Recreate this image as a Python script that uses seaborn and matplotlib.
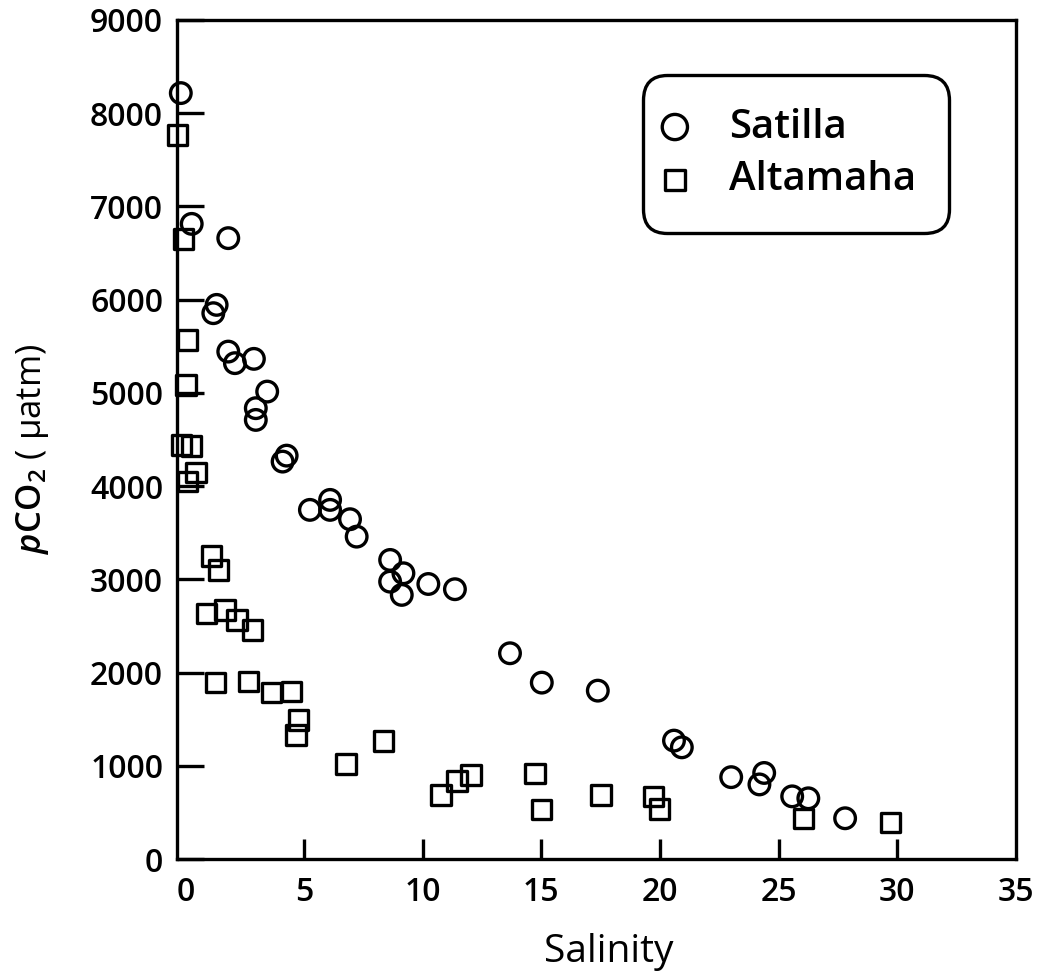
import matplotlib
matplotlib.use("Agg")
import matplotlib.pyplot as plt
import pandas as pd
import seaborn as sns

# Satilla River estuary: salinity vs. pCO2 (µatm)
satilla_salinity = [-0.19, 0.27, 1.81, 1.32, 1.18, 1.81, 2.09, 2.89, 3.45, 2.97,
                    2.97, 4.27, 4.10, 5.25, 6.10, 6.10, 6.94, 7.22, 8.63, 9.19,
                    8.63, 9.12, 10.24, 11.36, 13.68, 15.02, 17.38, 20.59, 20.92, 23.00,
                    24.39, 24.19, 25.57, 26.25, 27.80]
satilla_pco2 = [8216, 6813, 6660, 5944, 5855, 5443, 5319, 5365, 5014, 4836,
                4710, 4327, 4263, 3745, 3852, 3745, 3645, 3458, 3208, 3065,
                2975, 2833, 2950, 2894, 2207, 1892, 1806, 1270, 1198, 878,
                923, 800, 672, 651, 437]

# Altamaha River estuary
altamaha_salinity = [-0.32, -0.08, 0.08, 0.03, -0.15, 0.27, 0.45, 0.08, 1.11, 1.39,
                     0.90, 1.67, 2.17, 2.84, 1.28, 2.65, 3.64, 4.48, 4.76, 4.66,
                     6.77, 8.34, 10.78, 11.44, 12.03, 14.74, 15.02, 17.52, 19.72, 19.97,
                     26.04, 29.70]
altamaha_pco2 = [7768, 6649, 5569, 5086, 4442, 4431, 4145, 4048, 3251, 3101,
                 2636, 2672, 2564, 2457, 1892, 1902, 1784, 1795, 1491, 1330,
                 1019, 1266, 687, 837, 901, 920, 533, 687, 669, 536,
                 437, 390]

rivers = ["Satilla", "Altamaha"]
x_ticks = [0, 5, 10, 15, 20, 25, 30, 35]
y_ticks = [0, 1000, 2000, 3000, 4000, 5000, 6000, 7000, 8000, 9000]

sns.set_theme(style="white")
plt.rcParams["font.family"] = ["Open Sans", "DejaVu Sans"]
plt.rcParams["font.weight"] = "semibold"
plt.rcParams["text.color"] = "black"
plt.rcParams["mathtext.fontset"] = "custom"
plt.rcParams["mathtext.rm"] = "Open Sans:semibold"
plt.rcParams["mathtext.it"] = "Open Sans:italic:semibold"

satilla = pd.DataFrame({"Salinity": satilla_salinity, "pCO2": satilla_pco2, "River": rivers[0]})
altamaha = pd.DataFrame({"Salinity": altamaha_salinity, "pCO2": altamaha_pco2, "River": rivers[1]})

fig = plt.figure(figsize=(10.39, 9.75), dpi=100)
ax = fig.add_axes([177 / 1039, 1 - 859 / 975, 839 / 1039, 839 / 975])

lw = 2.4
sns.scatterplot(data=satilla, x="Salinity", y="pCO2", marker="o", s=220,
                facecolor="none", edgecolor="black", linewidth=lw,
                label=rivers[0], clip_on=False, zorder=3, ax=ax)
sns.scatterplot(data=altamaha, x="Salinity", y="pCO2", marker="s", s=195,
                facecolor="none", edgecolor="black", linewidth=lw,
                label=rivers[1], clip_on=False, zorder=3, ax=ax)

ax.set_xlim(-0.35, 35)
ax.set_ylim(0, 9000)
ax.set_xticks(x_ticks)
ax.set_yticks(y_ticks)

for side in ["left", "right", "top", "bottom"]:
    ax.spines[side].set_visible(True)
    ax.spines[side].set_color("black")
    ax.spines[side].set_linewidth(lw)

ax.tick_params(axis="both", which="major", direction="in", width=lw,
               bottom=True, left=True, top=False, right=False,
               colors="black", labelsize=23, labelcolor="black")
ax.tick_params(axis="x", length=14.5, pad=12)
ax.tick_params(axis="y", length=19.5, pad=10)
for tick, loc in zip(ax.xaxis.get_major_ticks(), x_ticks):
    if loc in (0, 35):
        tick.tick1line.set_visible(False)

ax.set_xlabel("Salinity", fontsize=28, color="black")
ax.xaxis.set_label_coords(0.515, -0.088)
ax.set_ylabel(r"$p\mathrm{CO}_2$ ( µatm)", fontsize=25, color="black")
ax.yaxis.set_label_coords(-0.150, 0.489)

leg = ax.legend(loc="upper left", bbox_to_anchor=(0.555, 0.934), borderaxespad=0,
                fontsize=29, frameon=True, fancybox=True, handlelength=0,
                handletextpad=1.35, borderpad=0.8, labelspacing=0.32)
frame = leg.get_frame()
frame.set_edgecolor("black")
frame.set_linewidth(lw)
frame.set_facecolor("white")
frame.set_alpha(1)
frame.set_boxstyle("round,pad=0,rounding_size=0.6")
for text in leg.get_texts():
    text.set_color("black")
handles = leg.legend_handles
handles[0].set_sizes([330])
handles[1].set_sizes([210])

fig.savefig("out.png", dpi=100, facecolor="white")
